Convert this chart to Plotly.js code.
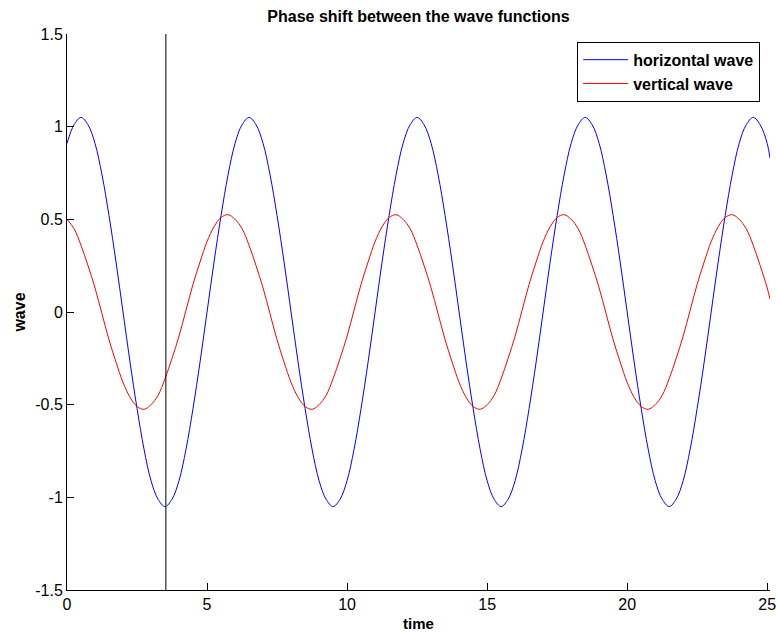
<!DOCTYPE html>
<html>
<head>
<meta charset="utf-8">
<script src="https://cdn.plot.ly/plotly-3.0.1.min.js"></script>
<style>html,body{margin:0;padding:0;background:#fff;}#chart{width:776px;height:633px;}</style>
</head>
<body>
<div id="chart"></div>
<script>
// time samples, every 0.25
var time = [0,0.25,0.5,0.75,1,1.25,1.5,1.75,2,2.25,2.5,2.75,3,3.25,3.5,3.75,4,4.25,4.5,4.75,5,5.25,5.5,5.75,
  6,6.25,6.5,6.75,7,7.25,7.5,7.75,8,8.25,8.5,8.75,9,9.25,9.5,9.75,10,10.25,10.5,10.75,11,11.25,11.5,11.75,
  12,12.25,12.5,12.75,13,13.25,13.5,13.75,14,14.25,14.5,14.75,15,15.25,15.5,15.75,16,16.25,16.5,16.75,17,17.25,17.5,17.75,
  18,18.25,18.5,18.75,19,19.25,19.5,19.75,20,20.25,20.5,20.75,21,21.25,21.5,21.75,22,22.25,22.5,22.75,23,23.25,23.5,23.75,
  24,24.25,24.5,24.75,25,25.1];
// horizontal wave values
var horizontalWave = [
  0.91,1.01,1.05,1.01,0.91,0.74,0.52,0.27,0,-0.27,-0.52,-0.74,-0.91,-1.01,-1.05,-1.01,-0.91,-0.74,-0.52,-0.27,0,0.27,0.52,0.74,
  0.91,1.01,1.05,1.01,0.91,0.74,0.52,0.27,0,-0.27,-0.52,-0.74,-0.91,-1.01,-1.05,-1.01,-0.91,-0.74,-0.52,-0.27,0,0.27,0.52,0.74,
  0.91,1.01,1.05,1.01,0.91,0.74,0.52,0.27,0,-0.27,-0.52,-0.74,-0.91,-1.01,-1.05,-1.01,-0.91,-0.74,-0.52,-0.27,0,0.27,0.52,0.74,
  0.91,1.01,1.05,1.01,0.91,0.74,0.52,0.27,0,-0.27,-0.52,-0.74,-0.91,-1.01,-1.05,-1.01,-0.91,-0.74,-0.52,-0.27,0,0.27,0.52,0.74,
  0.91,1.01,1.05,1.01,0.91,0.83];
// vertical wave values
var verticalWave = [
  0.50,0.45,0.36,0.25,0.13,-0.01,-0.15,-0.27,-0.38,-0.46,-0.51,-0.525,-0.50,-0.45,-0.36,-0.25,-0.13,0.01,0.15,0.27,0.38,0.46,0.51,0.525,
  0.50,0.45,0.36,0.25,0.13,-0.01,-0.15,-0.27,-0.38,-0.46,-0.51,-0.525,-0.50,-0.45,-0.36,-0.25,-0.13,0.01,0.15,0.27,0.38,0.46,0.51,0.525,
  0.50,0.45,0.36,0.25,0.13,-0.01,-0.15,-0.27,-0.38,-0.46,-0.51,-0.525,-0.50,-0.45,-0.36,-0.25,-0.13,0.01,0.15,0.27,0.38,0.46,0.51,0.525,
  0.50,0.45,0.36,0.25,0.13,-0.01,-0.15,-0.27,-0.38,-0.46,-0.51,-0.525,-0.50,-0.45,-0.36,-0.25,-0.13,0.01,0.15,0.27,0.38,0.46,0.51,0.525,
  0.50,0.45,0.36,0.25,0.13,0.07];
var markerTime = 3.53;
var xTicks = [0,5,10,15,20,25];
var yTicks = [-1.5,-1,-0.5,0,0.5,1,1.5];
var yTickText = ['-1.5','-1','-0.5','0','0.5','1','1.5'];

var font = 'Liberation Sans, Arial, sans-serif';
var traces = [
  {x: time, y: horizontalWave, type: 'scatter', mode: 'lines', name: '<b>horizontal wave</b>',
   line: {color: 'rgb(0,0,255)', width: 1, shape: 'spline', smoothing: 1}},
  {x: time, y: verticalWave, type: 'scatter', mode: 'lines', name: '<b>vertical wave</b>',
   line: {color: 'rgb(255,0,0)', width: 1, shape: 'spline', smoothing: 1}}
];
var layout = {
  width: 776, height: 633,
  margin: {l: 67, r: 6, t: 34, b: 43},
  paper_bgcolor: '#fff', plot_bgcolor: '#fff',
  font: {family: font, size: 16, color: '#000'},
  title: {text: '<b>Phase shift between the wave functions</b>', font: {family: font, size: 16, color: '#000'},
          x: 0.5, xanchor: 'center', y: 0.974, yanchor: 'middle', xref: 'paper'},
  xaxis: {range: [0, 25.1], tickvals: xTicks, ticktext: xTicks.map(String), ticks: 'inside', ticklen: 7,
          tickcolor: '#000', showline: true, linecolor: '#000', linewidth: 1, showgrid: false, zeroline: false,
          title: {text: '<b>time</b>', font: {family: font, size: 15}, standoff: 6},
          tickfont: {family: font, size: 16}, automargin: false, ticklabeloverflow: 'allow'},
  yaxis: {range: [-1.5, 1.5], tickvals: yTicks, ticktext: yTickText, ticks: 'inside', ticklen: 7,
          tickcolor: '#000', showline: true, linecolor: '#000', linewidth: 1, showgrid: false, zeroline: false,
          title: {text: '<b>wave</b>', font: {family: font, size: 16}, standoff: 5},
          tickfont: {family: font, size: 16}, automargin: false, ticklabeloverflow: 'allow'},
  legend: {x: 0.986, y: 0.986, xanchor: 'right', yanchor: 'top', bordercolor: '#000', borderwidth: 1,
           bgcolor: '#fff', font: {family: font, size: 16}, tracegroupgap: 0, itemwidth: 45},
  showlegend: true,
  shapes: [{type: 'line', xref: 'x', yref: 'paper', x0: markerTime, x1: markerTime, y0: 0, y1: 1,
            line: {color: '#000', width: 1}}]
};
Plotly.newPlot('chart', traces, layout, {displayModeBar: false, staticPlot: true});
</script>
</body>
</html>
